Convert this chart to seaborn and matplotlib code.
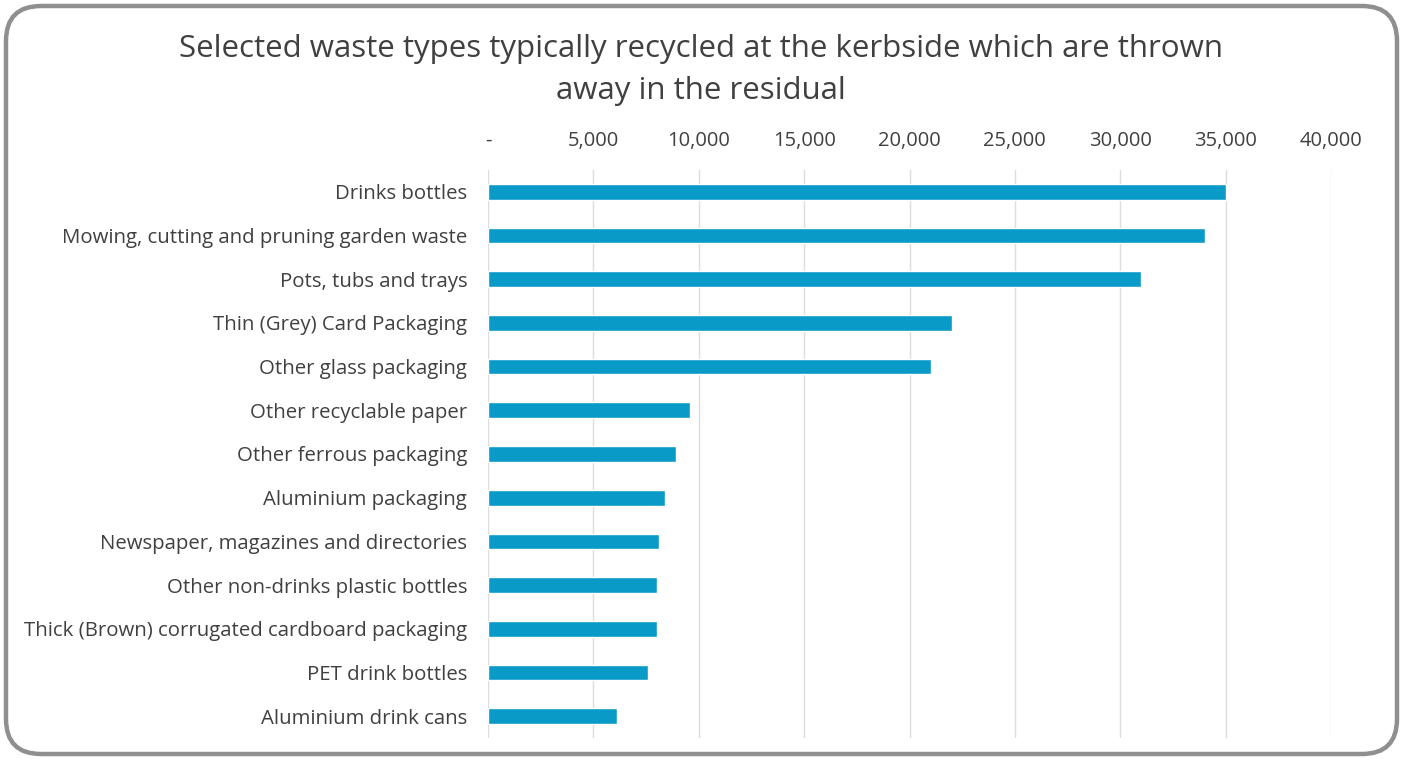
import matplotlib
matplotlib.use("Agg")
import matplotlib.pyplot as plt
import seaborn as sns
import pandas as pd
from matplotlib.patches import FancyBboxPatch
from matplotlib.ticker import FuncFormatter

categories = [
    "Drinks bottles",
    "Mowing, cutting and pruning garden waste",
    "Pots, tubs and trays",
    "Thin (Grey) Card Packaging",
    "Other glass packaging",
    "Other recyclable paper",
    "Other ferrous packaging",
    "Aluminium packaging",
    "Newspaper, magazines and directories",
    "Other non-drinks plastic bottles",
    "Thick (Brown) corrugated cardboard packaging",
    "PET drink bottles",
    "Aluminium drink cans",
]
values = [35000, 34000, 31000, 22000, 21000, 9600, 8900, 8400, 8100, 8000, 8000, 7600, 6100]
xticks = [0, 5000, 10000, 15000, 20000, 25000, 30000, 35000, 40000]
title = "Selected waste types typically recycled at the kerbside which are thrown\naway in the residual"

sns.set_theme(style="white")
plt.rcParams["font.family"] = ["Open Sans", "DejaVu Sans"]
text_color = "#404040"

df = pd.DataFrame({"category": categories, "value": values})

fig = plt.figure(figsize=(14.03, 7.6), dpi=100)
W, H = 1403, 760
ax = fig.add_axes([488 / W, 1 - 738 / H, (1331 - 488) / W, (738 - 170) / H])

sns.barplot(data=df, y="category", x="value", orient="h", color="#0a9ac8",
            width=0.36, saturation=1, ax=ax, zorder=3)

ax.set_xlim(0, 40000)
ax.set_xticks(xticks)
ax.xaxis.set_major_formatter(FuncFormatter(lambda v, p: "-" if v == 0 else f"{int(v):,}"))
ax.xaxis.tick_top()
ax.grid(axis="x", color="#dcdcdc", linewidth=1, zorder=0)
ax.grid(axis="y", visible=False)
for s in ax.spines.values():
    s.set_visible(False)
ax.tick_params(axis="x", length=0, pad=14, labelsize=14.5, labelcolor=text_color)
ax.tick_params(axis="y", length=0, pad=15, labelsize=14.7, labelcolor=text_color)
ax.set_xlabel("")
ax.set_ylabel("")

fig.text(701 / W, 1 - 70 / H, title, ha="center", va="center", fontsize=22.5,
         color=text_color, linespacing=1.5)

border = FancyBboxPatch((6 / W, 6 / H), (W - 12) / W, (H - 12) / H,
                        boxstyle="round,pad=0,rounding_size=0.025",
                        transform=fig.transFigure, facecolor="none",
                        edgecolor="#8f8f8f", linewidth=3.2, mutation_aspect=W / H)
fig.patches.append(border)

fig.savefig("out.png", dpi=100)
